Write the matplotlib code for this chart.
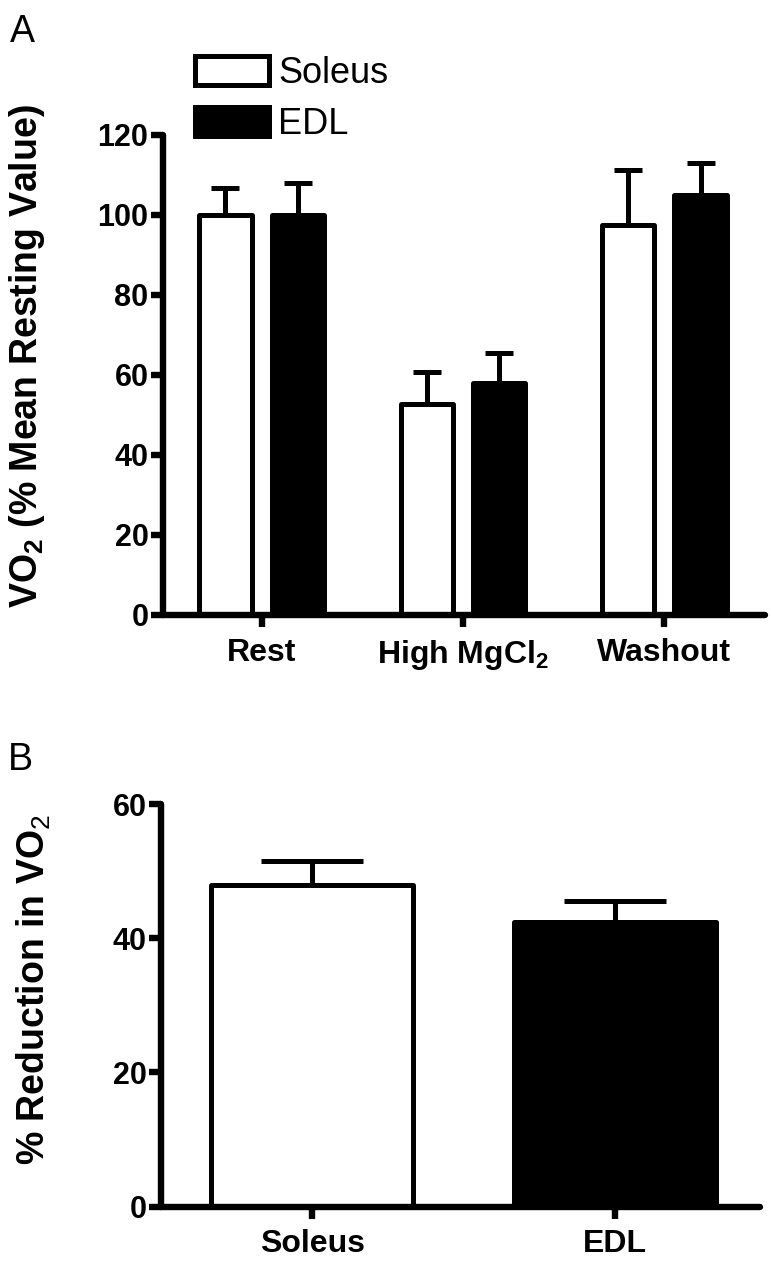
import matplotlib
matplotlib.use("Agg")
import matplotlib.pyplot as plt
import numpy as np

plt.rcParams['font.family'] = ['Liberation Sans', 'DejaVu Sans']
plt.rcParams['mathtext.fontset'] = 'custom'
plt.rcParams['mathtext.rm'] = 'Liberation Sans'
plt.rcParams['mathtext.bf'] = 'Liberation Sans:bold'

# Panel A data
conditions = ['Rest', r'High MgCl$_\mathbf{2}$', 'Washout']
soleus_a = [100, 52.7, 97.5]
soleus_a_err = [6.8, 8.0, 13.8]
edl_a = [100, 57.9, 105.1]
edl_a_err = [7.9, 7.6, 7.9]

# Panel B data
muscles = ['Soleus', 'EDL']
reduction = [47.9, 42.4]
reduction_err = [3.6, 3.1]

lw = 3.6
axw = 4.6

fig = plt.figure(figsize=(7.71, 12.61), dpi=100)

def style_axes(ax):
    for s in ['top', 'right']:
        ax.spines[s].set_visible(False)
    for s in ['left', 'bottom']:
        ax.spines[s].set_linewidth(axw)
        ax.spines[s].set_capstyle('round')
    ax.tick_params(axis='y', width=axw, length=8.5, labelsize=22, pad=2)
    ax.tick_params(axis='x', width=axw, length=8.5, labelsize=23, pad=8)
    for lab in ax.get_xticklabels() + ax.get_yticklabels():
        lab.set_fontweight('bold')

# ---- Panel A ----
axA = fig.add_axes([163/771, 1-615/1261, 602/771, 480/1261])
x = np.arange(len(conditions))
off = 0.18
w = 0.26
axA.bar(x - off, soleus_a, w, color='white', edgecolor='black', linewidth=lw,
        joinstyle='round', label='Soleus', zorder=2)
axA.bar(x + off, edl_a, w, color='black', edgecolor='black', linewidth=lw,
        joinstyle='round', label='EDL', zorder=2)
axA.errorbar(x - off, soleus_a, yerr=[np.zeros(3), soleus_a_err], fmt='none',
             ecolor='black', elinewidth=lw, capsize=10, capthick=lw, zorder=1)
axA.errorbar(x + off, edl_a, yerr=[np.zeros(3), edl_a_err], fmt='none',
             ecolor='black', elinewidth=lw, capsize=10, capthick=lw, zorder=1)
axA.set_xlim(-0.49, 2.5)
axA.set_ylim(0, 120)
axA.set_yticks([0, 20, 40, 60, 80, 100, 120])
axA.set_xticks(x)
axA.set_xticklabels(conditions)
style_axes(axA)
axA.set_ylabel(r'VO$_\mathbf{2}$ (% Mean Resting Value)', fontsize=27, fontweight='bold')
axA.yaxis.set_label_coords(-0.192, 0.54)
leg = axA.legend(loc='upper left', bbox_to_anchor=(195/771, 1-56/1261),
                 bbox_transform=fig.transFigure, frameon=False, fontsize=26,
                 handlelength=2.05, handleheight=0.85, handletextpad=0.25,
                 labelspacing=0.45, borderpad=0, borderaxespad=0)
for p in leg.get_patches():
    p.set_linewidth(lw)
fig.text(10/771, 1-42/1261, 'A', fontsize=27)

# ---- Panel B ----
axB = fig.add_axes([161/771, 1-1206.5/1261, 599/771, 402.5/1261])
xb = np.arange(len(muscles))
axB.bar(xb, reduction, 0.667, color=['white', 'black'], edgecolor='black',
        linewidth=lw, joinstyle='round', zorder=2)
axB.errorbar(xb, reduction, yerr=[np.zeros(2), reduction_err], fmt='none',
             ecolor='black', elinewidth=lw, capsize=37, capthick=lw, zorder=1)
axB.set_xlim(-0.5, 1.48)
axB.set_ylim(0, 60)
axB.set_yticks([0, 20, 40, 60])
axB.set_xticks(xb)
axB.set_xticklabels(muscles)
style_axes(axB)
axB.set_ylabel(r'% Reduction in VO$_2$', fontsize=27, fontweight='bold')
axB.yaxis.set_label_coords(-0.18, 0.54)
fig.text(8/771, 1-770/1261, 'B', fontsize=27)

fig.savefig('out.png', dpi=100)
